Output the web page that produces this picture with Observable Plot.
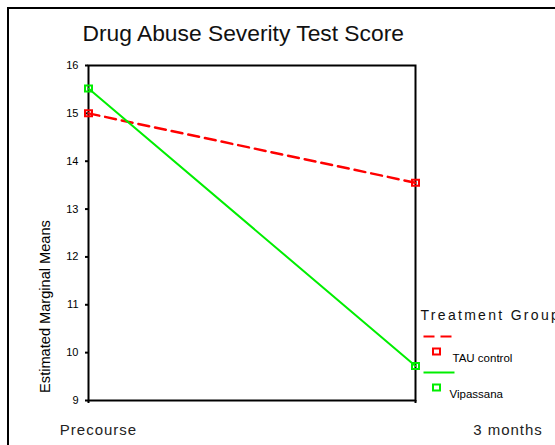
<!DOCTYPE html>
<html>
<head>
<meta charset="utf-8">
<script src="https://cdn.jsdelivr.net/npm/d3@7"></script>
<script src="https://cdn.jsdelivr.net/npm/@observablehq/plot@0.6"></script>
<style>
  html, body { margin: 0; padding: 0; background: #fff; overflow: hidden; }
  #wrap { position: relative; width: 555px; height: 445px; overflow: hidden; background: #fff; }
  #border { position: absolute; left: 7px; top: 7px; width: 700px; height: 600px; border-left: 2px solid #000; border-top: 2px solid #000; }
  #chart { position: absolute; left: 0; top: 0; }
  svg { font-family: "Liberation Sans", Arial, sans-serif; }
  .xlab text { letter-spacing: 1px; }
  .legtitle text { letter-spacing: 2.3px; }
</style>
</head>
<body>
<div id="wrap"><div id="border"></div><div id="chart"></div></div>
<script>
// Data
const times = ["Precourse", "3 months"];
const groups = ["TAU control", "Vipassana"];
const tauValues = [15.0, 13.55];
const vipValues = [15.52, 9.72];
const yTicks = [9, 10, 11, 12, 13, 14, 15, 16];
const titleText = "Drug Abuse Severity Test Score";
const yLabel = "Estimated Marginal Means";
const legendTitle = "Treatment Group";

const colors = {"TAU control": "#ff0000", "Vipassana": "#00ee00"};
const dashes = {"TAU control": "11,6", "Vipassana": null};

const rows = [];
times.forEach((t, i) => {
  rows.push({time: t, group: groups[0], value: tauValues[i]});
  rows.push({time: t, group: groups[1], value: vipValues[i]});
});

const lineSym = {draw(ctx) { ctx.moveTo(-15.5, 0); ctx.lineTo(15.5, 0); }};
const sqSym = {draw(ctx) { ctx.rect(-3.5, -3, 7, 6); }};

const legendMarks = [];
groups.forEach((g, i) => {
  const off = i * 36;
  legendMarks.push(Plot.dot([g], {frameAnchor: "bottom-right", dx: 23.5, dy: -64 + off, symbol: lineSym, r: 1, stroke: colors[g], strokeWidth: 2, strokeDasharray: dashes[g] || undefined, fill: "none"}));
  legendMarks.push(Plot.dot([g], {frameAnchor: "bottom-right", dx: 21, dy: -49 + off, symbol: sqSym, r: 1, stroke: colors[g], strokeWidth: 2, fill: "none"}));
  legendMarks.push(Plot.text([g], {frameAnchor: "bottom-right", text: d => d, dx: i === 0 ? 37 : 34, dy: -42 + off, textAnchor: "start", lineAnchor: "middle", fontSize: 11.5, fill: "#000"}));
});

const xLabelOffsets = [10, 92.5];
const xLabelMarks = times.map((t, i) =>
  Plot.text([t], {frameAnchor: i === 0 ? "bottom-left" : "bottom-right", dx: xLabelOffsets[i], dy: 30, text: d => d, textAnchor: "middle", lineAnchor: "middle", fontSize: 15, fill: "#222", className: "xlab"})
);

const chart = Plot.plot({
  width: 555,
  height: 445,
  marginLeft: 88,
  marginRight: 140,
  marginTop: 65,
  marginBottom: 45,
  style: {background: "transparent", overflow: "visible"},
  x: {type: "point", domain: times, padding: 0, axis: null},
  y: {domain: [9, 16], axis: null},
  marks: [
    Plot.axisY({ticks: yTicks, tickSize: 3, tickPadding: 7, tickFormat: d => d, fontSize: 11, stroke: "#000", strokeWidth: 2, label: null, color: "#000"}),
    Plot.text([yLabel], {frameAnchor: "bottom-left", dx: -43, dy: -94, rotate: -90, text: d => d, textAnchor: "middle", lineAnchor: "middle", fontSize: 14.6, fill: "#000"}),
    Plot.axisX({ticks: times, tickSize: 3, tickFormat: () => "", stroke: "#000", strokeWidth: 2, label: null}),
    ...xLabelMarks,
    Plot.frame({stroke: "#000", strokeWidth: 2}),
    Plot.line(rows.filter(r => r.group === groups[0]), {x: "time", y: "value", stroke: colors[groups[0]], strokeWidth: 2.5, strokeDasharray: "11,6"}),
    Plot.line(rows.filter(r => r.group === groups[1]), {x: "time", y: "value", stroke: colors[groups[1]], strokeWidth: 2}),
    Plot.dot(rows, {x: "time", y: "value", symbol: sqSym, r: 1, stroke: d => colors[d.group], strokeWidth: 2, fill: "none"}),
    Plot.text([titleText], {frameAnchor: "top-left", dx: -6, dy: -32, text: d => d, textAnchor: "start", lineAnchor: "middle", fontSize: 22.8, fill: "#111"}),
    Plot.text([legendTitle], {frameAnchor: "bottom-right", dx: 5, dy: -85, text: d => d, textAnchor: "start", lineAnchor: "middle", fontSize: 14, fill: "#111", className: "legtitle"}),
    ...legendMarks
  ]
});
document.getElementById("chart").appendChild(chart);
</script>
</body>
</html>
